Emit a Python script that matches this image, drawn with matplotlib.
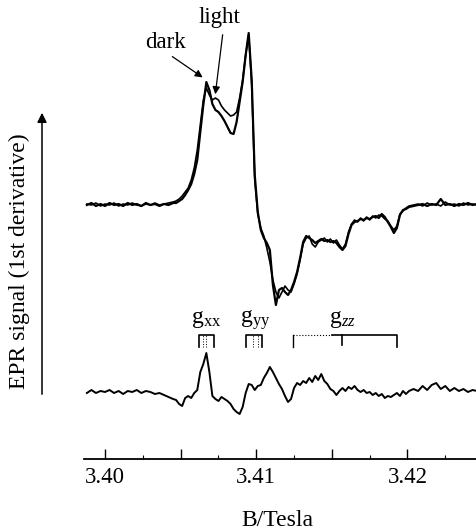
import numpy as np
import matplotlib
matplotlib.use("Agg")
import matplotlib.pyplot as plt
from matplotlib.patches import FancyArrowPatch

plt.rcParams['font.family'] = ['Liberation Serif', 'DejaVu Serif']
plt.rcParams['mathtext.fontset'] = 'custom'
plt.rcParams['mathtext.rm'] = 'Liberation Serif'
plt.rcParams['mathtext.it'] = 'Liberation Serif:italic'

# ---------------- data (field in Tesla, signal in arbitrary units) ----------------
field_a = [3.3988, 3.3991, 3.3994, 3.3997, 3.4000, 3.4003, 3.4006, 3.4009, 3.4012, 3.4015,
           3.4018, 3.4021, 3.4024, 3.4027, 3.4030, 3.4033, 3.4036, 3.4039, 3.4042, 3.4045]
field_b = [3.4047, 3.4049, 3.4051, 3.4053, 3.4055, 3.4057, 3.4059, 3.4061, 3.4063, 3.4065,
           3.4067, 3.4069, 3.4071, 3.4073, 3.4075, 3.4077, 3.4079, 3.4081, 3.4083, 3.4085,
           3.4087, 3.4089, 3.4091, 3.4093, 3.4095, 3.4097, 3.4099, 3.4101, 3.4103, 3.4105,
           3.4107, 3.4109, 3.4111, 3.4113, 3.4115, 3.4117, 3.4119, 3.4121, 3.4123, 3.4125,
           3.4127, 3.4129, 3.4131, 3.4133, 3.4135, 3.4137, 3.4139, 3.4141, 3.4143, 3.4145,
           3.4147, 3.4149, 3.4151, 3.4153, 3.4155, 3.4157, 3.4159, 3.4161, 3.4163, 3.4165,
           3.4167, 3.4169, 3.4171, 3.4173, 3.4175, 3.4177, 3.4179, 3.4181, 3.4183, 3.4185,
           3.4187, 3.4189, 3.4191, 3.4193, 3.4195, 3.4197, 3.4199, 3.4201]
field_c = [3.4204, 3.4207, 3.4210, 3.4213, 3.4216, 3.4219, 3.4222, 3.4225, 3.4228, 3.4231,
           3.4234, 3.4237, 3.4240, 3.4243, 3.4246]

dark = ([0, 2, -1, 1, -1, 2, 0, 1, -1, 2, 0, 1, -1, 2, 0, 1, -1, 1, 0, 2] +
        [2, 4, 6, 10, 15, 21, 31, 45, 73, 100,
         123, 115, 101, 95, 93, 89, 84, 78, 72, 71,
         83, 103, 123, 150, 172, 125, 30, -7, -25, -33,
         -38, -45, -80, -100, -85, -83, -87, -90, -85, -77,
         -67, -53, -37, -31, -33, -35, -38, -36, -34, -36,
         -35, -37, -36, -38, -42, -45, -41, -29, -20, -17,
         -16, -14, -15, -13, -14, -12, -11, -13, -9, -12,
         -17, -22, -28, -23, -10, -5, -4, -2] +
        [-1, 0, 1, -1, 1, 0, 6, 0, 1, -1, 1, 0, 2, 0, 1])

light = ([1, 0, 2, -1, 1, 0, 2, -1, 1, 0, 2, 0, -1, 1, 0, 2, 0, 1, 2, 3] +
         [4, 6, 9, 13, 17, 25, 37, 55, 80, 105,
          117, 110, 105, 107, 105, 99, 95, 92, 89, 90,
          93, 107, 125, 150, 170, 120, 25, -9, -23, -31,
          -43, -57, -75, -87, -93, -87, -81, -85, -87, -79,
          -69, -55, -39, -33, -31, -39, -42, -37, -35, -33,
          -37, -34, -38, -35, -40, -44, -39, -27, -19, -15,
          -17, -13, -16, -12, -15, -11, -13, -10, -11, -14,
          -16, -21, -25, -21, -9, -6, -3, -1] +
         [0, 1, -1, 2, 0, 1, -1, 3, 0, 1, -1, 2, 0, 1, 0])

difference = ([-1, 2, -1, 1, 0, 2, -1, 1, -2, 1, 0, 2, -1, 1, 0, -2, -1, -3, -5, -7] +
              [-8, -12, -14, -6, -4, -6, -1, 2, 20, 28,
               39, 20, -4, -7, -9, -5, -7, -9, -12, -17,
               -20, -22, -15, -1, 8, 7, 2, 6, 7, 14,
               19, 25, 20, 14, 8, 3, -4, -10, -7, 4,
               9, 7, 11, 9, 14, 10, 16, 12, 18, 11,
               8, 3, 1, -3, 1, 4, 1, 5, 3, 6,
               2, 0, 2, -1, 0, -3, -1, -4, -2, -6,
               -4, -5, -3, -1, -4, 1, -2, 1] +
              [3, 1, 6, 2, 7, 9, 3, 6, 1, 4, 1, 3, 0, 2, 1])

# g-tensor component markers (Tesla)
gxx_edges = [3.4062, 3.4072]
gxx_inner = [3.4065, 3.4067]
gyy_edges = [3.4093, 3.4104]
gyy_inner = [3.4098, 3.4101]
gzz_edges = [3.4124, 3.4193]
gzz_center = 3.4157

tick_major = [3.40, 3.405, 3.41, 3.415, 3.42]
tick_labels = ['3.40', '', '3.41', '', '3.42']
tick_minor = [3.4025, 3.4075, 3.4125, 3.4175, 3.4225]

field = np.array(field_a + field_b + field_c)
dark = np.array(dark)
light = np.array(light)
difference = np.array(difference)

# ---------------- figure ----------------
W, H = 476, 532
fig = plt.figure(figsize=(W / 100, H / 100), dpi=100)
ax = fig.add_axes([84 / W, 73 / H, 392 / W, 459 / H])
ax.set_xlim(3.39861, 3.42453)
ax.set_ylim(0, 459)

up_off, low_off = 254, 67
ax.plot(field, up_off + light, color='k', lw=1.2)
ax.plot(field, up_off + dark, color='k', lw=1.6)
ax.plot(field, low_off + difference, color='k', lw=1.4)

for s in ['left', 'top', 'right']:
    ax.spines[s].set_visible(False)
ax.spines['bottom'].set_linewidth(1.3)
ax.set_yticks([])
ax.set_xticks(tick_major)
ax.set_xticklabels(tick_labels)
ax.set_xticks(tick_minor, minor=True)
ax.tick_params(axis='x', which='major', direction='in', length=7, width=1.0,
               labelsize=16.5, pad=6)
ax.tick_params(axis='x', which='minor', direction='in', length=3, width=0.8)

# dark / light labels with arrows
ax.text(3.40403, 417, 'dark', fontsize=16.5, ha='center', va='center')
ax.text(3.40754, 441, 'light', fontsize=16.5, ha='center', va='center')
ax.annotate('', xy=(3.40661, 380), xytext=(3.40430, 404),
            arrowprops=dict(arrowstyle='-|>', lw=0.9, color='k', mutation_scale=11))
ax.annotate('', xy=(3.40727, 362), xytext=(3.40780, 427),
            arrowprops=dict(arrowstyle='-|>', lw=0.9, color='k', mutation_scale=11))

# g markers
top, bot = 124, 112
def bracket(x0, x1):
    ax.plot([x0, x0, x1, x1], [bot, top, top, bot], color='k', lw=1.2)

bracket(*gxx_edges)
for xv in gxx_inner:
    ax.plot([xv, xv], [bot, top], color='k', lw=0.7, ls=':')
bracket(*gyy_edges)
for xv in gyy_inner:
    ax.plot([xv, xv], [bot, top], color='k', lw=0.7, ls=':')
ax.plot([gzz_edges[0], gzz_edges[0]], [bot, top], color='k', lw=1.0)
ax.plot([gzz_edges[0], 3.4150], [top, top], color='k', lw=0.8, ls=':')
ax.plot([3.4150, gzz_edges[1], gzz_edges[1]], [top, top, bot], color='k', lw=1.2)
ax.plot([gzz_center, gzz_center], [top, 114], color='k', lw=1.2)

ax.text(np.mean(gxx_edges), 139, r'g$_{\mathrm{xx}}$', fontsize=17, ha='center', va='center')
ax.text(np.mean(gyy_edges) + 0.00005, 139, r'g$_{\mathrm{yy}}$', fontsize=17, ha='center', va='center')
ax.text(gzz_center, 139, r'g$_{zz}$', fontsize=17, ha='center', va='center')

# y label with arrow (figure pixels)
fig.text(19 / W, 1 - 261 / H, 'EPR signal (1st derivative)', rotation=90,
         fontsize=17, ha='center', va='center')
arr = FancyArrowPatch((42 / W, 1 - 397 / H), (42 / W, 1 - 110 / H),
                      transform=fig.transFigure, arrowstyle='-|>', lw=1.1,
                      color='k', mutation_scale=14)
fig.add_artist(arr)

# x label
fig.text(277 / W, 1 - 521 / H, 'B/Tesla', fontsize=17, ha='center', va='center')

fig.savefig('out.png', dpi=100)
